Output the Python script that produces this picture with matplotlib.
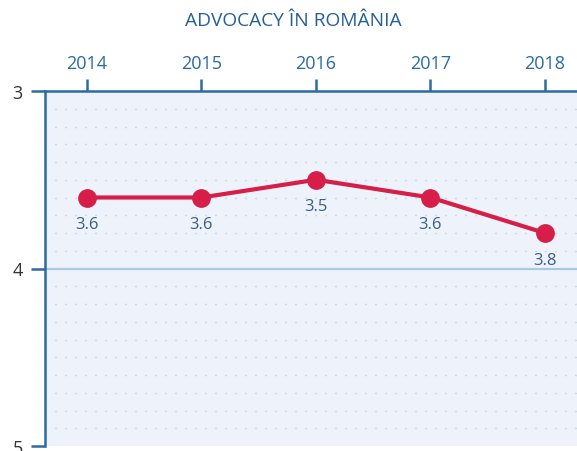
import matplotlib
matplotlib.use("Agg")
import matplotlib.pyplot as plt

years = [2014, 2015, 2016, 2017, 2018]
values = [3.6, 3.6, 3.5, 3.6, 3.8]
labels = ["3.6", "3.6", "3.5", "3.6", "3.8"]
yticks = [3, 4, 5]
title = "ADVOCACY ÎN ROMÂNIA"

plt.rcParams['font.family'] = ['Open Sans', 'DejaVu Sans']

fig = plt.figure(figsize=(5.77, 4.52), dpi=100)
ax = fig.add_axes([45/577, 5/452, 1 - 45/577, (447-92)/452])
ax.set_facecolor('#eef3fb')

ax.set_xlim(2013.633, 2018.28)
ax.set_ylim(5, 3)

# dotted grid every 0.1
for i in range(1, 20):
    y = 3 + i * 0.1
    if i == 10:
        continue
    ax.axhline(y, color='#aebdd0', lw=1.0, ls=(0, (0.7, 6.5)), zorder=1)
ax.axhline(4, color='#a9c9e2', lw=1.6, zorder=1)

ax.plot(years, values, color='#d61e48', lw=3, marker='o', markersize=12.5,
        zorder=3, solid_capstyle='round')
for x, v, l in zip(years, values, labels):
    ax.text(x, v + 0.15, l, ha='center', va='center', fontsize=12,
            color='#3a5f86', zorder=4)

ax.xaxis.tick_top()
ax.set_xticks(years)
ax.set_xticklabels([str(y) for y in years], color='#2a6aa5', fontsize=13)
ax.set_yticks(yticks)
ax.set_yticklabels([str(t) for t in yticks], color='#333333', fontsize=13)
ax.tick_params(axis='x', length=9, width=1.8, color='#2d6aa0', pad=5)
ax.tick_params(axis='y', length=10, width=1.8, color='#2d6aa0', pad=6)

for s in ['right', 'bottom']:
    ax.spines[s].set_visible(False)
for s in ['left', 'top']:
    ax.spines[s].set_color('#2d6aa0')
    ax.spines[s].set_linewidth(1.8)

fig.text(293/577, 1 - 21/452, title, ha='center', va='center', fontsize=13.8,
         color='#245f98')

fig.savefig('out.png', dpi=100)
